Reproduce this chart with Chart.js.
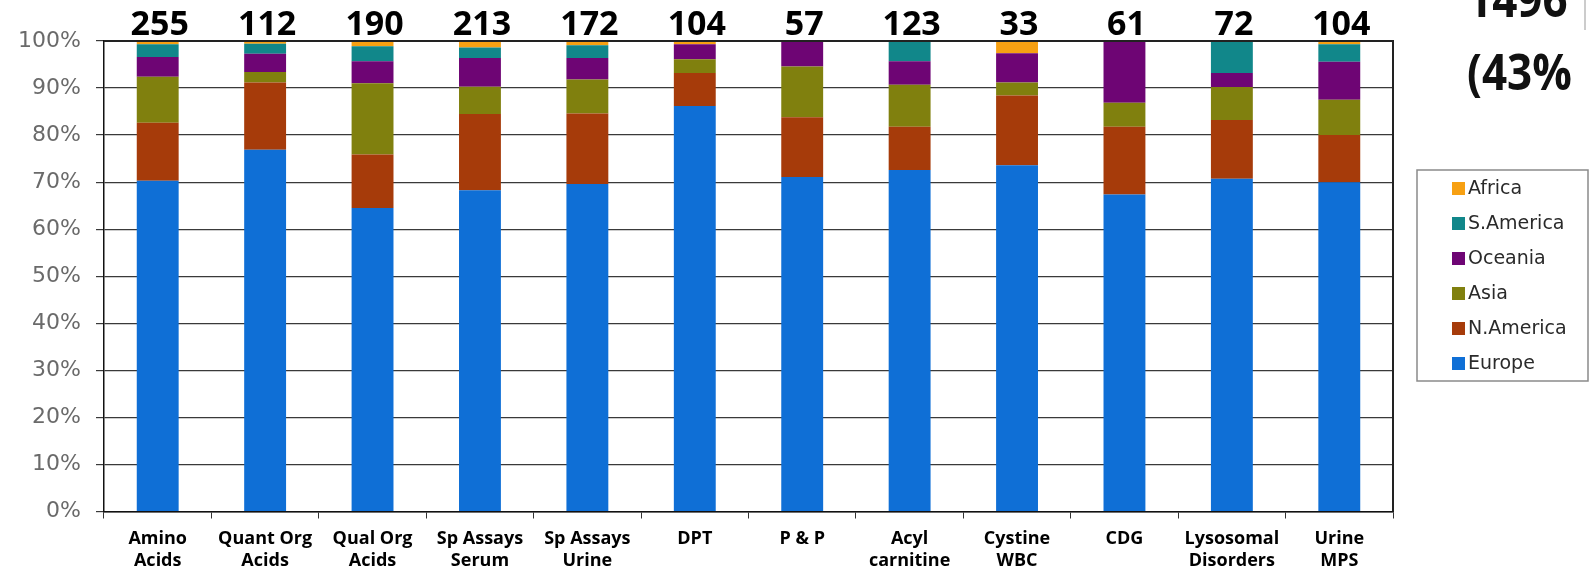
<!DOCTYPE html>
<html>
<head>
<meta charset="utf-8">
<script src="https://cdn.jsdelivr.net/npm/chart.js@4"></script>
<style>
  html, body { margin: 0; padding: 0; background: #fff; }
  #wrap { position: relative; width: 1589px; height: 570px; }
</style>
</head>
<body>
<div id="wrap"><canvas id="regions"></canvas></div>
<script>
const categories = [
    ['Amino', 'Acids'], ['Quant Org', 'Acids'], ['Qual Org', 'Acids'],
    ['Sp Assays', 'Serum'], ['Sp Assays', 'Urine'], 'DPT', 'P & P',
    ['Acyl', 'carnitine'], ['Cystine', 'WBC'], 'CDG',
    ['Lysosomal', 'Disorders'], ['Urine', 'MPS']
];
const totals = [255, 112, 190, 213, 172, 104, 57, 123, 33, 61, 72, 104];

// share of samples per region, % of each test
const europe    = [70.3, 76.9, 64.5, 68.3, 69.6, 86.2, 71.1, 72.6, 73.6, 67.4, 70.7, 70.0];
const nAmerica  = [12.3, 14.3, 11.4, 16.2, 15.0, 7.0, 12.7, 9.2, 14.8, 14.4, 12.5, 10.0];
const asia      = [9.8, 2.2, 15.1, 5.8, 7.2, 2.9, 10.8, 8.9, 2.8, 5.1, 7.0, 7.5];
const oceania   = [4.2, 3.9, 4.7, 6.1, 4.6, 3.2, 5.4, 5.0, 6.2, 13.1, 3.0, 8.1];
const sAmerica  = [2.7, 2.1, 3.2, 2.2, 2.7, 0, 0, 4.3, 0, 0, 6.8, 3.7];
const africa    = [0.7, 0.6, 1.1, 1.4, 0.9, 0.7, 0, 0, 2.6, 0, 0, 0.7];

const yTicks = [0, 10, 20, 30, 40, 50, 60, 70, 80, 90, 100];

const regionColors = {
    'Europe': '#0f6fd6',
    'N.America': '#a63b0a',
    'Asia': '#80800e',
    'Oceania': '#6e0574',
    'S.America': '#11878a',
    'Africa': '#f7a012'
};

const mkSet = (label, data) => ({
    label: label,
    data: data,
    backgroundColor: regionColors[label],
    borderWidth: 0,
    categoryPercentage: 1,
    barPercentage: 0.39
});

// totals on top + plot frame + legend box + side note
const extras = {
    id: 'extras',
    afterDraw(chart) {
        const c = chart.ctx;
        const a = chart.chartArea;
        const xs = chart.scales.x;
        c.save();
        // frame
        c.strokeStyle = '#222';
        c.lineWidth = 2;
        c.beginPath();
        c.moveTo(a.left, a.top);
        c.lineTo(a.right, a.top);
        c.lineTo(a.right, a.bottom);
        c.stroke();

        c.fillStyle = '#000';
        c.font = "bold 34px 'Open Sans'";
        c.textAlign = 'center';
        c.textBaseline = 'alphabetic';
        totals.forEach((t, i) => {
            c.fillText(String(t), xs.getPixelForValue(i) + 2, 35);
        });

        // legend
        const lx = 1417, ly = 170, lw = 171, lh = 211;
        c.strokeStyle = '#8a8a8a';
        c.lineWidth = 1.5;
        c.strokeRect(lx, ly, lw, lh);
        const sets = chart.data.datasets.slice().reverse();
        c.font = "19px 'DejaVu Sans'";
        c.textAlign = 'left';
        c.textBaseline = 'middle';
        sets.forEach((ds, i) => {
            const y = 188 + i * 35;
            c.fillStyle = ds.backgroundColor;
            c.fillRect(1452, y - 6, 13, 13);
            c.fillStyle = '#2a2a2a';
            c.fillText(ds.label, 1468, y + 1);
        });

        // side note (cut off at the top)
        c.fillStyle = '#111';
        c.font = "bold 50px 'Open Sans'";
        c.textBaseline = 'alphabetic';
        c.save();
        c.translate(1467, 0);
        c.scale(0.88, 1);
        c.fillText('1496', 0, 17);
        c.fillText('(43%', 0, 90);
        c.restore();
        c.strokeStyle = '#bbb';
        c.lineWidth = 1.5;
        c.beginPath();
        c.moveTo(1585, 0);
        c.lineTo(1585, 30);
        c.stroke();
        c.restore();
    }
};

const ctx = document.getElementById('regions');

new Chart(ctx, {
    type: 'bar',
    data: {
        labels: categories,
        datasets: [
            mkSet('Europe', europe),
            mkSet('N.America', nAmerica),
            mkSet('Asia', asia),
            mkSet('Oceania', oceania),
            mkSet('S.America', sAmerica),
            mkSet('Africa', africa)
        ]
    },
    options: {
        responsive: true,
        maintainAspectRatio: false,
        animation: false,
        layout: { padding: { top: 41, right: 196, bottom: 0, left: 0 } },
        plugins: {
            legend: { display: false },
            tooltip: { enabled: false }
        },
        scales: {
            x: {
                stacked: true,
                afterFit: (s) => { s.height = 58.5; },
                grid: {
                    drawOnChartArea: false,
                    drawTicks: true,
                    tickLength: 7,
                    color: '#333',
                    offset: true
                },
                border: { color: '#111', width: 1.5 },
                ticks: {
                    color: '#000',
                    padding: 9,
                    maxRotation: 0,
                    autoSkip: false,
                    font: { family: "'Open Sans'", size: 18, weight: 'bold', lineHeight: 1.22 }
                }
            },
            y: {
                stacked: true,
                min: 0,
                max: 100,
                afterFit: (s) => { s.width = 104; },
                afterBuildTicks: (s) => { s.ticks = yTicks.map(v => ({ value: v })); },
                grid: {
                    color: '#3a3a3a',
                    lineWidth: 1.2,
                    tickLength: 8
                },
                border: { color: '#111', width: 1.5 },
                ticks: {
                    color: '#6a6a6a',
                    padding: 15,
                    font: { family: "'DejaVu Sans'", size: 22 },
                    callback: (v) => v + '%'
                }
            }
        }
    },
    plugins: [extras]
});
</script>
</body>
</html>
